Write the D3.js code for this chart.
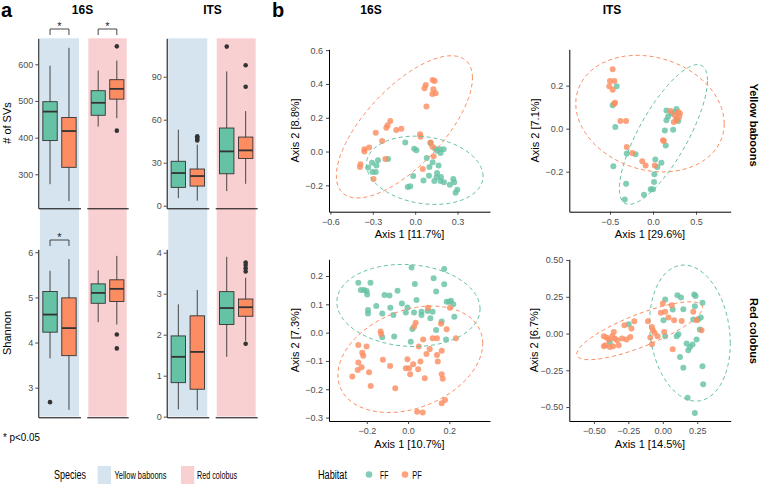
<!DOCTYPE html>
<html><head><meta charset="utf-8">
<script src="https://cdn.jsdelivr.net/npm/d3@7"></script>
<style>body{margin:0;background:#fff}svg text{font-family:"Liberation Sans",Arial,Helvetica,sans-serif}</style>
</head><body><svg id="c" width="760" height="486"></svg>
<script>
// ---------------- DATA ----------------
const species = ["Yellow baboons", "Red colobus"];
const habitats = ["FF", "PF"];
// boxplot stats: [lower whisker, q1, median, q3, upper whisker]
const svs16S = [
  {species:"Yellow baboons", habitat:"FF", stats:[273,392,471,498,596], out:[]},
  {species:"Yellow baboons", habitat:"PF", stats:[227,319,418,455,645], out:[]},
  {species:"Red colobus", habitat:"FF", stats:[430,461,495,528,583], out:[]},
  {species:"Red colobus", habitat:"PF", stats:[453,505,533,558,610], out:[649,419]}
];
const svsITS = [
  {species:"Yellow baboons", habitat:"FF", stats:[5.3,12.8,22.8,31,53], out:[]},
  {species:"Yellow baboons", habitat:"PF", stats:[3.5,13.7,20.7,25.6,42.6], out:[45.5,46.5,47.5,48.5]},
  {species:"Red colobus", habitat:"FF", stats:[10.2,22.3,37.9,54.2,93.7], out:[111]},
  {species:"Red colobus", habitat:"PF", stats:[15.3,33,38.6,47.9,66], out:[98,83]}
];
const shannon16S = [
  {species:"Yellow baboons", habitat:"FF", stats:[3.65,4.23,4.62,5.13,5.59], out:[2.68]},
  {species:"Yellow baboons", habitat:"PF", stats:[2.51,3.71,4.32,4.99,5.85], out:[]},
  {species:"Red colobus", habitat:"FF", stats:[4.45,4.87,5.10,5.30,5.60], out:[]},
  {species:"Red colobus", habitat:"PF", stats:[4.40,4.91,5.19,5.39,5.92], out:[4.18,3.87]}
];
const shannonITS = [
  {species:"Yellow baboons", habitat:"FF", stats:[0.18,0.83,1.46,1.97,2.74], out:[]},
  {species:"Yellow baboons", habitat:"PF", stats:[0.16,0.67,1.58,2.46,3.09], out:[]},
  {species:"Red colobus", habitat:"FF", stats:[1.46,2.25,2.65,3.05,3.90], out:[]},
  {species:"Red colobus", habitat:"PF", stats:[1.85,2.45,2.67,2.87,3.39], out:[3.54,3.62,3.70,3.76,1.78]}
];
const ticksSvs16S = [300,400,500,600];
const ticksSvsITS = [0,30,60,90];
const ticksSh16S = [3,4,5,6];
const ticksShITS = [0,1,2,3,4];

// PCoA points [Axis1, Axis2]
const pc16S_YB_FF = [[-0.070,0.053],[-0.007,0.016],[0.009,0.008],[0.082,-0.038],[0.108,0.051],[0.141,0.018],[0.157,0.004],[0.180,-0.008],[0.202,0.014],[0.176,0.014],[-0.263,-0.051],[-0.274,-0.083],[-0.333,-0.095],[-0.302,-0.121],[-0.279,-0.121],[-0.014,-0.145],[-0.052,-0.210],[-0.035,-0.206],[0.059,-0.172],[0.098,-0.143],[0.136,-0.174],[0.152,-0.150],[0.166,-0.083],[0.155,-0.127],[0.183,-0.150],[0.180,-0.174],[0.204,-0.182],[0.246,-0.196],[0.270,-0.162],[0.298,-0.226],[0.286,-0.244],[0.277,-0.182],[0.124,-0.063],[0.101,-0.091],[-0.305,-0.067],[-0.192,-0.044]];
const pc16S_YB_PF = [[0.075,0.394],[0.066,0.374],[0.124,0.424],[0.138,0.418],[0.129,0.368],[0.145,0.345],[0.122,0.341],[0.080,0.267],[-0.176,0.180],[-0.195,0.156],[-0.204,0.141],[-0.134,0.127],[-0.098,0.135],[-0.234,0.063],[-0.279,0.111],[-0.326,0.024],[-0.359,0.014],[-0.359,0.000],[-0.387,-0.075],[-0.391,-0.091],[-0.295,-0.162],[-0.211,-0.044],[0.035,0.103],[0.038,0.087],[0.110,0.053],[0.122,0.028],[0.131,-0.028],[0.054,-0.103]];
const pcITS_YB_FF = [[-0.469,0.109],[-0.438,0.008],[-0.461,-0.175],[-0.305,-0.116],[-0.203,-0.119],[-0.313,-0.256],[-0.328,-0.329],[-0.105,-0.307],[-0.027,-0.282],[0.000,-0.282],[0.012,-0.248],[0.016,-0.212],[0.027,-0.143],[0.051,-0.178],[0.098,-0.158],[0.137,-0.008],[0.156,0.039],[0.176,0.057],[0.234,-0.005],[0.148,-0.078],[0.273,0.091],[0.254,0.078],[0.273,0.047],[0.293,0.036],[0.156,0.085],[0.215,0.070],[-0.422,0.197]];
const pcITS_YB_PF = [[-0.469,0.276],[-0.500,0.222],[-0.449,0.222],[-0.508,0.197],[-0.469,0.181],[-0.441,0.121],[-0.453,0.116],[-0.379,0.036],[-0.313,0.036],[-0.305,-0.085],[-0.242,-0.113],[-0.125,-0.152],[-0.086,-0.171],[0.020,-0.171],[0.125,-0.057],[0.203,0.082],[0.254,0.062],[0.293,0.078],[0.305,0.054],[0.273,0.039],[0.242,0.031],[0.313,0.070],[0.117,-0.054]];
const pc16S_RC_FF = [[-0.241,0.176],[-0.229,0.151],[-0.213,0.151],[-0.201,0.147],[-0.198,0.135],[-0.182,0.176],[-0.194,0.080],[-0.194,0.068],[-0.154,0.094],[-0.114,0.133],[-0.090,0.131],[-0.051,0.148],[-0.125,0.068],[-0.086,0.088],[-0.071,0.062],[-0.030,0.103],[-0.003,0.089],[0.017,0.230],[0.033,0.172],[0.041,0.115],[-0.011,0.071],[0.029,0.071],[0.065,0.074],[0.065,0.062],[0.095,0.076],[0.119,0.074],[0.108,0.051],[0.124,0.192],[0.136,0.145],[0.175,0.225],[0.175,0.171],[0.187,0.109],[0.198,0.109],[0.208,0.113],[0.219,0.100],[0.224,0.056],[-0.125,-0.016],[-0.067,-0.014],[0.021,0.013],[0.013,-0.032],[0.136,0.009],[0.163,0.039],[0.184,-0.024]];
const pc16S_RC_PF = [[0.037,0.035],[0.029,0.021],[-0.133,0.004],[-0.130,-0.005],[0.073,-0.024],[0.052,-0.049],[0.097,0.088],[0.119,-0.020],[0.140,-0.020],[0.160,0.031],[0.187,0.012],[0.203,0.088],[0.232,-0.020],[0.105,-0.058],[0.140,-0.079],[0.163,-0.064],[0.144,-0.102],[0.089,-0.075],[-0.241,-0.044],[-0.201,-0.049],[-0.222,-0.071],[-0.217,-0.082],[-0.241,-0.105],[-0.244,-0.132],[-0.225,-0.122],[-0.270,-0.155],[-0.189,-0.140],[-0.181,-0.188],[-0.122,-0.096],[-0.087,-0.118],[-0.062,-0.196],[-0.003,-0.094],[-0.011,-0.126],[0.005,-0.126],[0.010,-0.147],[0.025,-0.112],[0.060,-0.102],[0.049,-0.129],[0.081,-0.161],[0.163,-0.147],[0.168,-0.163],[0.163,-0.249],[0.179,-0.238],[0.044,-0.279],[0.071,-0.282]];
const pcITS_RC_FF = [[0.017,0.232],[0.106,0.261],[0.132,0.245],[0.072,0.164],[0.149,0.166],[0.228,0.266],[0.238,0.255],[0.288,0.209],[0.233,0.186],[0.221,0.095],[0.257,0.095],[0.276,0.109],[0.269,0.027],[0.245,-0.041],[0.216,-0.075],[0.113,-0.005],[0.101,-0.018],[0.017,-0.018],[0.173,-0.068],[0.185,-0.114],[0.197,-0.091],[0.125,-0.159],[0.149,-0.232],[0.180,-0.436],[0.288,-0.223],[0.293,-0.345],[0.233,-0.541],[-0.248,0.064],[-0.385,-0.057],[0.005,0.091]];
const pcITS_RC_PF = [[-0.428,-0.018],[-0.409,-0.027],[-0.416,-0.080],[-0.428,-0.086],[-0.385,-0.091],[-0.361,-0.086],[-0.392,-0.041],[-0.368,-0.018],[-0.356,0.011],[-0.349,-0.034],[-0.332,-0.045],[-0.320,-0.080],[-0.296,-0.034],[-0.264,-0.041],[-0.236,-0.023],[-0.228,0.034],[-0.207,0.084],[-0.279,0.057],[-0.108,0.084],[-0.079,0.045],[-0.072,0.023],[-0.091,-0.027],[-0.079,-0.073],[-0.060,0.005],[-0.038,-0.018],[-0.014,0.141],[0.000,0.205],[0.017,0.148],[0.041,0.109],[0.065,0.193],[0.082,0.091],[0.072,-0.107],[0.137,0.086],[0.221,0.148],[0.245,0.091],[0.281,0.023],[0.010,0.011]];

// 95% confidence ellipses:
// [centre Axis1, centre Axis2, half-width (Axis1), half-height (Axis2), Axis2 offset at the rightmost point]
const ell16S_YB_FF = [0.068, -0.111, 0.413, 0.202, -0.035];
const ell16S_YB_PF = [-0.076, 0.146, 0.482, 0.421, 0.290];
const ellITS_YB_FF = [0.121, -0.027, 0.512, 0.325, 0.252];
const ellITS_YB_PF = [-0.035, 0.070, 0.863, 0.271, -0.047];
const ell16S_RC_FF = [0.002, 0.096, 0.347, 0.145, -0.012];
const ell16S_RC_PF = [0.011, -0.094, 0.351, 0.188, 0.056];
const ellITS_RC_FF = [0.197, 0.003, 0.293, 0.463, -0.070];
const ellITS_RC_PF = [-0.168, 0.019, 0.457, 0.197, 0.158];

// ---------------- STYLE ----------------
const col = {FF:"#66c2a5", PF:"#fc8d62"};
const bg = {"Yellow baboons":"#d6e4f0", "Red colobus":"#f9d0d2"};
const svg = d3.select("#c");
const minus = s => s.replace("-", "\u2212");

function styleAxis(g){
  g.selectAll(".domain").attr("stroke","#000").attr("stroke-width",1);
  g.selectAll(".tick line").attr("stroke","#333").attr("stroke-width",0.9);
  g.selectAll(".tick text").attr("fill","#4d4d4d").style("font-size","9px").style("font-family",'"Liberation Sans",Arial,sans-serif');
}

// ---------------- PANEL A ----------------
const facetCols = {
  "16S": {"Yellow baboons":[40,79], "Red colobus":[88.3,126.7]},
  "ITS": {"Yellow baboons":[168.3,207.3], "Red colobus":[216.7,255.7]}
};
const axisXa = {"16S":38.3, "ITS":166.7};
Object.keys(facetCols).forEach(m=>{
  species.forEach(s=>{
    const r = facetCols[m][s];
    svg.append("rect").attr("x",r[0]).attr("y",38.3).attr("width",r[1]-r[0]).attr("height",416.5-38.3).attr("fill",bg[s]);
  });
});

function boxPanel(data, marker, domain, yr, ticks, bracketSpecies){
  const y = d3.scaleLinear().domain(domain).range(yr);
  const g = svg.append("g");
  species.forEach(s=>{
    const r = facetCols[marker][s];
    const xb = d3.scaleBand().domain(habitats).range(r).paddingInner(0.24).paddingOuter(0.15);
    const xl = d3.scaleLinear().range([r[0]-1.5, r[1]+1.5]);
    const ax = g.append("g").attr("transform",`translate(0,${yr[0]})`).call(d3.axisBottom(xl).tickValues([]).tickSizeOuter(0));
    styleAxis(ax);
    data.filter(d=>d.species===s).forEach(d=>{
      const x0 = xb(d.habitat), w = xb.bandwidth(), cx = x0 + w/2;
      const [lo,q1,md,q3,hi] = d.stats;
      g.append("line").attr("x1",cx).attr("x2",cx).attr("y1",y(lo)).attr("y2",y(hi)).attr("stroke","#333").attr("stroke-width",0.9);
      g.append("rect").attr("x",x0).attr("width",w).attr("y",y(q3)).attr("height",y(q1)-y(q3)).attr("fill",col[d.habitat]).attr("stroke","#333").attr("stroke-width",0.9);
      g.append("line").attr("x1",x0).attr("x2",x0+w).attr("y1",y(md)).attr("y2",y(md)).attr("stroke","#333").attr("stroke-width",1.8);
      d.out.forEach(o=>g.append("circle").attr("cx",cx).attr("cy",y(o)).attr("r",2.3).attr("fill","#333"));
    });
    if (bracketSpecies.includes(s)){
      const a = xb("FF")+xb.bandwidth()/2, b = xb("PF")+xb.bandwidth()/2;
      const top = yr[1]-9.3, leg = yr[1]-3.3;
      g.append("path").attr("d",`M${a},${leg}V${top}H${b}V${leg}`).attr("fill","none").attr("stroke","#333").attr("stroke-width",0.9);
      g.append("text").attr("x",(a+b)/2).attr("y",top+1).attr("text-anchor","middle").style("font-size","11px").attr("fill","#222").text("*");
    }
  });
  const ay = g.append("g").attr("transform",`translate(${axisXa[marker]},0)`).call(d3.axisLeft(y).tickValues(ticks).tickFormat(d3.format("d")).tickSize(3).tickPadding(2).tickSizeOuter(0));
  styleAxis(ay);
}
boxPanel(svs16S, "16S", [207.3,670.9], [208.3,38.3], ticksSvs16S, ["Yellow baboons","Red colobus"]);
boxPanel(svsITS, "ITS", [-1.8,116.8], [208.3,38.3], ticksSvsITS, []);
boxPanel(shannon16S, "16S", [2.344,6.066], [417.3,249.3], ticksSh16S, ["Yellow baboons"]);
boxPanel(shannonITS, "ITS", [-0.015,4.083], [417.3,249.3], ticksShITS, []);

function txt(x,y,s,size,opts={}){
  const t = svg.append("text").attr("x",x).attr("y",y).style("font-size",size+"px").attr("fill",opts.fill||"#000").text(s);
  if (opts.bold) t.style("font-weight","bold");
  if (opts.anchor) t.attr("text-anchor",opts.anchor);
  if (opts.rot!==undefined) t.attr("transform",`rotate(${opts.rot},${x},${y})`);
  if (opts.len) t.attr("textLength",opts.len).attr("lengthAdjust","spacingAndGlyphs");
  return t;
}
txt(1,16.5,"a",20,{bold:true});
txt(272,16.5,"b",20,{bold:true});
txt(82.5,14,"16S",12,{bold:true,anchor:"middle"});
txt(212.5,14,"ITS",12,{bold:true,anchor:"middle"});
txt(371,14,"16S",12,{bold:true,anchor:"middle"});
txt(612,14,"ITS",12,{bold:true,anchor:"middle"});
txt(10.5,123,"# of SVs",11,{anchor:"middle",rot:-90});
txt(10.5,333,"Shannon",11,{anchor:"middle",rot:-90});
txt(3,441,"* p<0.05",11,{len:37});

// ---------------- PANEL B ----------------
function ellipsePts(e){
  const [cx, cy, W, H, dyR] = e;
  const R22 = Math.sqrt(H*H - dyR*dyR);
  return d3.range(0,73).map(k=>{const t=k*2*Math.PI/72;
    return [cx + W*Math.cos(t), cy + dyR*Math.cos(t) + R22*Math.sin(t)];});
}

function scatter(cfg){
  const x = d3.scaleLinear().domain(cfg.xd).range(cfg.xr);
  const y = d3.scaleLinear().domain(cfg.yd).range(cfg.yr);
  const g = svg.append("g");
  const fmt = v => minus(d3.format(cfg.fmt)(v));
  const ax = g.append("g").attr("transform",`translate(0,${cfg.yr[0]})`).call(d3.axisBottom(x).tickValues(cfg.xt).tickFormat(fmt).tickSize(3).tickPadding(3.5).tickSizeOuter(0));
  const ay = g.append("g").attr("transform",`translate(${cfg.xr[0]},0)`).call(d3.axisLeft(y).tickValues(cfg.yt).tickFormat(fmt).tickSize(3).tickPadding(3).tickSizeOuter(0));
  styleAxis(ax); styleAxis(ay);
  [["FF",cfg.ff],["PF",cfg.pf]].forEach(([h,pts])=>{
    g.append("g").selectAll("circle").data(pts).join("circle")
      .attr("cx",d=>x(d[0])).attr("cy",d=>y(d[1])).attr("r",3).attr("fill",col[h]).attr("fill-opacity",0.82);
  });
  [["FF",cfg.eff],["PF",cfg.epf]].forEach(([h,e])=>{
    g.append("path").attr("d",d3.line().x(d=>x(d[0])).y(d=>y(d[1])).curve(d3.curveLinearClosed)(ellipsePts(e)))
      .attr("fill","none").attr("stroke",col[h]).attr("stroke-width",1).attr("stroke-dasharray","4,3");
  });
  txt((cfg.xr[0]+cfg.xr[1])/2, cfg.yr[0]+26.5, cfg.xl, 11, {anchor:"middle"});
  txt(cfg.ylx, (cfg.yr[0]+cfg.yr[1])/2, cfg.yl, 11, {anchor:"middle", rot:-90});
}
scatter({xd:[-0.61,0.53], xr:[329,490], yd:[-0.356,0.605], yr:[211.7,49.3], xt:[-0.6,-0.3,0,0.3], yt:[-0.2,0,0.2,0.4,0.6], fmt:".1f",
  ff:pc16S_YB_FF, pf:pc16S_YB_PF, eff:ell16S_YB_FF, epf:ell16S_YB_PF, xl:"Axis 1 [11.7%]", yl:"Axis 2 [8.8%]", ylx:299});
scatter({xd:[-0.973,0.903], xr:[569.3,730.7], yd:[-0.386,0.369], yr:[211.7,49.3], xt:[-0.5,0,0.5], yt:[-0.2,0,0.2], fmt:".1f",
  ff:pcITS_YB_FF, pf:pcITS_YB_PF, eff:ellITS_YB_FF, epf:ellITS_YB_PF, xl:"Axis 1 [29.6%]", yl:"Axis 2 [7.1%]", ylx:538.5});
scatter({xd:[-0.383,0.397], xr:[329,490], yd:[-0.312,0.259], yr:[421,259.3], xt:[-0.2,0,0.2], yt:[-0.3,-0.2,-0.1,0,0.1,0.2], fmt:".1f",
  ff:pc16S_RC_FF, pf:pc16S_RC_PF, eff:ell16S_RC_FF, epf:ell16S_RC_PF, xl:"Axis 1 [10.7%]", yl:"Axis 2 [7.3%]", ylx:299});
scatter({xd:[-0.679,0.493], xr:[569.3,730.7], yd:[-0.595,0.505], yr:[421,259.3], xt:[-0.5,-0.25,0,0.25], yt:[-0.5,-0.25,0,0.25,0.5], fmt:".2f",
  ff:pcITS_RC_FF, pf:pcITS_RC_PF, eff:ellITS_RC_FF, epf:ellITS_RC_PF, xl:"Axis 1 [14.5%]", yl:"Axis 2 [6.7%]", ylx:538.5});

txt(750,125,"Yellow baboons",11,{bold:true,anchor:"middle",rot:90});
txt(750,331,"Red colobus",11,{bold:true,anchor:"middle",rot:90});

// ---------------- LEGEND ----------------
txt(54,479,"Species",12,{len:32});
svg.append("rect").attr("x",97.7).attr("y",466).attr("width",13.3).attr("height",18).attr("fill",bg["Yellow baboons"]);
txt(114.5,478.5,"Yellow baboons",10.5,{len:52});
svg.append("rect").attr("x",181).attr("y",466).attr("width",13.3).attr("height",18).attr("fill",bg["Red colobus"]);
txt(197,478.5,"Red colobus",10.5,{len:40});
txt(318,479,"Habitat",12,{len:29});
svg.append("circle").attr("cx",369).attr("cy",474.5).attr("r",3.3).attr("fill",col.FF).attr("fill-opacity",0.82);
txt(380,478.5,"FF",10.5,{len:8.5});
svg.append("circle").attr("cx",405).attr("cy",474.5).attr("r",3.3).attr("fill",col.PF).attr("fill-opacity",0.82);
txt(412.3,478.5,"PF",10.5,{len:9.5});
</script></body></html>
